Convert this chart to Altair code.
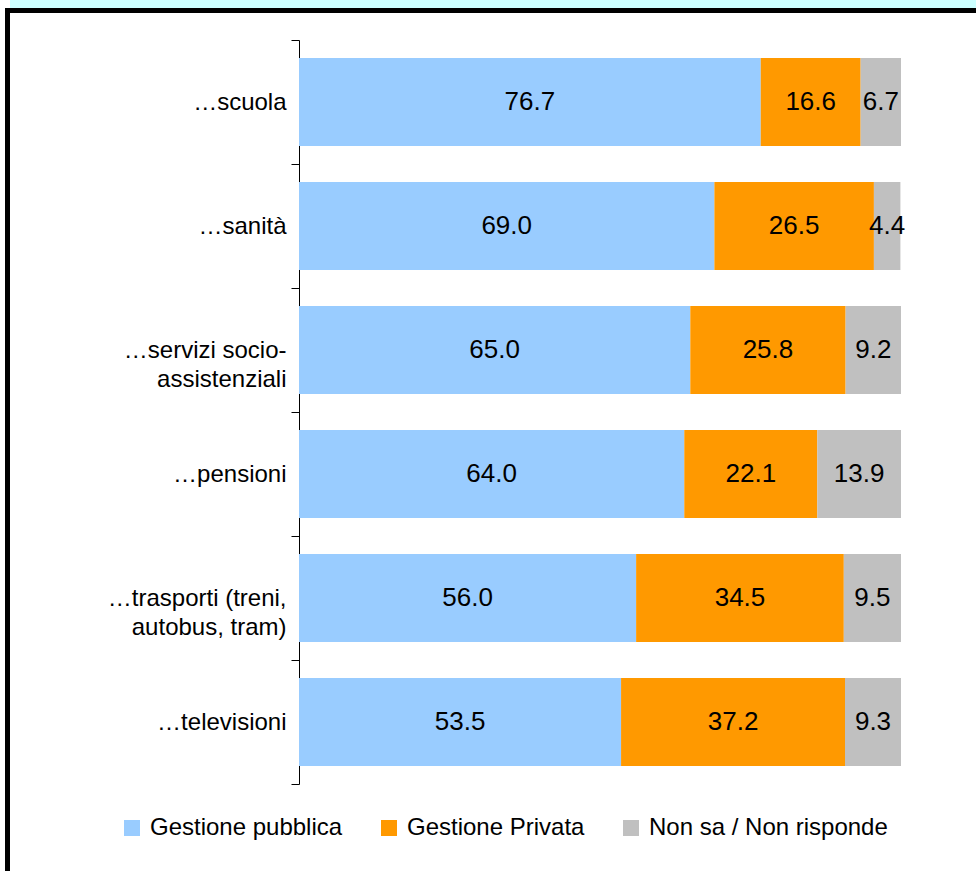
import altair as alt
import pandas as pd

categories = ["…scuola", "…sanità", "…servizi socio-\nassistenziali", "…pensioni",
              "…trasporti (treni,\nautobus, tram)", "…televisioni"]
series = ["Gestione pubblica", "Gestione Privata", "Non sa / Non risponde"]
pubblica = [76.7, 69.0, 65.0, 64.0, 56.0, 53.5]
privata = [16.6, 26.5, 25.8, 22.1, 34.5, 37.2]
nonsa = [6.7, 4.4, 9.2, 13.9, 9.5, 9.3]
colors = ["#99CCFF", "#FF9900", "#C0C0C0"]

rows = []
for i, c in enumerate(categories):
    for j, (s, vals) in enumerate(zip(series, [pubblica, privata, nonsa])):
        rows.append({"cat": c, "serie": s, "ord": j, "val": vals[i]})
df = pd.DataFrame(rows)

FONT = "Liberation Sans"

base = alt.Chart(df).transform_stack(
    stack="val", groupby=["cat"], as_=["x0", "x1"],
    sort=[alt.SortField("ord", order="ascending")]
).transform_calculate(mid="(datum.x0 + datum.x1) / 2")

yscale = alt.Scale(paddingInner=0, paddingOuter=0)

yenc = alt.Y("cat:N", sort=categories, title=None, scale=yscale,
             axis=alt.Axis(domainColor="black", domainWidth=1, tickColor="black",
                           tickSize=8, tickWidth=1, tickBand="extent",
                           labelFont=FONT, labelFontSize=24, labelColor="black",
                           labelPadding=5, labelLineHeight=29,
                           labelExpr="split(datum.label, '\\n')"))

xscale = alt.Scale(domain=[0, 100], nice=False, zero=True)

bars = base.mark_bar(height={"band": 0.71}).encode(
    y=yenc,
    x=alt.X("x0:Q", scale=xscale, axis=None),
    x2="x1:Q",
    color=alt.Color("serie:N", scale=alt.Scale(domain=series, range=colors),
                    legend=alt.Legend(title=None, orient="none", legendX=-179, legendY=776,
                                      direction="horizontal", symbolType="square",
                                      symbolSize=256, symbolStrokeWidth=0,
                                      labelFont=FONT, labelFontSize=24, labelColor="black",
                                      labelLimit=0, labelOffset=6, columnPadding=34)),
)

labels = base.mark_text(font=FONT, fontSize=26, color="black", baseline="middle").encode(
    y=alt.Y("cat:N", sort=categories, scale=yscale),
    x=alt.X("mid:Q", scale=xscale),
    text=alt.Text("val:Q", format=".1f"),
)

deco = alt.Data(values=[{"k": 1}])
band = alt.Chart(deco).mark_rect(color="#CCFFFF").encode(
    x=alt.value(-289), x2=alt.value(700), y=alt.value(-40), y2=alt.value(-32))
frame = alt.Chart(deco).mark_rect(fill=None, stroke="black", strokeWidth=5).encode(
    x=alt.value(-291.5), x2=alt.value(700), y=alt.value(-29.5), y2=alt.value(900))

chart = alt.layer(band, frame, bars, labels).properties(
    width=602, height=744,
    autosize=alt.AutoSizeParams(type="none"),
    padding={"left": 299, "top": 40, "right": 75, "bottom": 87},
    background="white",
).configure_view(stroke=None)

chart.save("out.html", embed_options={"renderer": "svg", "actions": False})
